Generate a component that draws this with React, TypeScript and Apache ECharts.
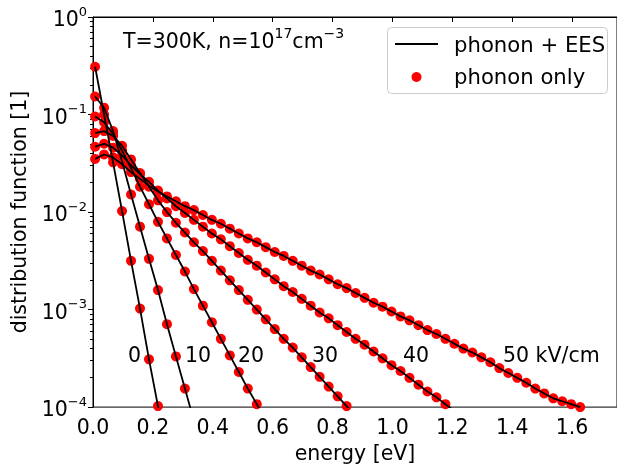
import React, { useEffect, useRef } from 'react';
import * as echarts from 'echarts';

// energy grid of the sampled points [eV]
const energy = [
  0.007, 0.037, 0.067, 0.097, 0.127, 0.157, 0.187, 0.217, 0.247, 0.277,
  0.307, 0.337, 0.367, 0.397, 0.427, 0.457, 0.487, 0.517, 0.547, 0.577,
  0.607, 0.637, 0.667, 0.697, 0.727, 0.757, 0.787, 0.817, 0.847, 0.877,
  0.907, 0.937, 0.967, 0.997, 1.027, 1.057, 1.087, 1.117, 1.147, 1.177,
  1.207, 1.237, 1.267, 1.297, 1.327, 1.357, 1.387, 1.417, 1.447, 1.477,
  1.507, 1.537, 1.567, 1.597, 1.627,
];

// log10 of the distribution function, per field
const log10F_0kV = [-0.51, -1.0, -1.49, -1.99, -2.5, -2.99, -3.51, -3.99, -4.48];
const log10F_10kV = [-0.815, -0.93, -1.17, -1.48, -1.82, -2.15, -2.48, -2.8, -3.15, -3.48, -3.81, -4.14];
const log10F_20kV = [
  -1.02, -1.08, -1.2, -1.37, -1.55, -1.74, -1.92, -2.1, -2.27, -2.44,
  -2.61, -2.79, -2.96, -3.13, -3.3, -3.47, -3.64, -3.81, -3.97, -4.14,
];
const log10F_30kV = [
  -1.19, -1.17, -1.22, -1.32, -1.46, -1.6, -1.74, -1.88, -2.0, -2.11,
  -2.21, -2.31, -2.4, -2.5, -2.6, -2.7, -2.8, -2.9, -3.0, -3.1,
  -3.2, -3.3, -3.39, -3.49, -3.59, -3.69, -3.79, -3.89, -3.99, -4.09,
];
const log10F_40kV = [
  -1.33, -1.3, -1.34, -1.42, -1.52, -1.61, -1.69, -1.78, -1.86, -1.94,
  -2.01, -2.08, -2.15, -2.22, -2.28, -2.35, -2.42, -2.49, -2.55, -2.62,
  -2.69, -2.76, -2.82, -2.89, -2.96, -3.03, -3.09, -3.16, -3.23, -3.3,
  -3.36, -3.43, -3.5, -3.57, -3.63, -3.7, -3.77, -3.84, -3.9, -3.97, -4.04,
];
const log10F_50kV = [
  -1.455, -1.41, -1.44, -1.51, -1.59, -1.66, -1.73, -1.79, -1.84, -1.89,
  -1.94, -1.98, -2.03, -2.08, -2.12, -2.17, -2.22, -2.27, -2.31, -2.36,
  -2.41, -2.45, -2.5, -2.55, -2.6, -2.64, -2.69, -2.74, -2.78, -2.83,
  -2.88, -2.93, -2.97, -3.02, -3.07, -3.11, -3.16, -3.21, -3.25, -3.3,
  -3.35, -3.4, -3.44, -3.49, -3.54, -3.6, -3.65, -3.7, -3.75, -3.81,
  -3.86, -3.91, -3.94, -3.97, -4.0,
];

const fieldCurves = [log10F_0kV, log10F_10kV, log10F_20kV, log10F_30kV, log10F_40kV, log10F_50kV];
const fieldLabels = ['0', '10', '20', '30', '40', '50 kV/cm'];

const xTickValues = [0, 0.2, 0.4, 0.6, 0.8, 1.0, 1.2, 1.4, 1.6];
const yMinorMantissas = [2, 3, 4, 5, 6, 7, 8, 9];
const yDecades = [-4, -3, -2, -1];

const FONT = 'DejaVu Sans';
const FS = 20.5;
const FS_SUP = 14;
const FS_LEGEND = 21.2;

export default function App() {
  const ref = useRef<HTMLDivElement>(null);

  useEffect(() => {
    if (!ref.current) return;
    const chart = echarts.init(ref.current, undefined, { renderer: 'svg' });

    const toPoints = (logs: number[]) => logs.map((v, i) => [energy[i], Math.pow(10, v)]);

    const minorTickPositions: number[] = [];
    yDecades.forEach((d) => yMinorMantissas.forEach((m) => minorTickPositions.push(d + Math.log10(m))));

    const series: any[] = [];
    fieldCurves.forEach((c) => {
      series.push({
        name: 'phonon only',
        type: 'scatter',
        data: toPoints(c),
        symbol: 'circle',
        symbolSize: 10,
        itemStyle: { color: '#ff0000', opacity: 1 },
        z: 2,
        silent: true,
      });
    });
    fieldCurves.forEach((c) => {
      series.push({
        name: 'phonon + EES',
        type: 'line',
        data: toPoints(c),
        showSymbol: false,
        symbol: 'none',
        lineStyle: { color: '#000000', width: 1.8 },
        z: 3,
        silent: true,
      });
    });

    const labelX = [128, 185, 238, 312, 403, 503];
    const graphics: any[] = fieldLabels.map((t, i) => ({
      type: 'text',
      x: labelX[i],
      y: 355,
      style: { text: t, font: `${FS}px "${FONT}"`, fill: '#000', verticalAlign: 'middle', align: 'left' },
      z: 10,
    }));

    graphics.push({
      type: 'text',
      x: 123,
      y: 26,
      style: {
        text: '{b|T=300K, n=10}{s|17}{b|cm}{s|\u22123}',
        fill: '#000',
        verticalAlign: 'top',
        rich: {
          b: { fontSize: FS, fontFamily: FONT, lineHeight: 25, verticalAlign: 'bottom', fill: '#000' },
          s: { fontSize: FS_SUP, fontFamily: FONT, lineHeight: 14, verticalAlign: 'top', fill: '#000' },
        },
      },
      z: 10,
    });

    // legend box
    graphics.push({
      type: 'rect',
      shape: { x: 387.5, y: 27.5, width: 220, height: 66, r: 4 },
      style: { fill: 'rgba(255,255,255,0.8)', stroke: '#cccccc', lineWidth: 1 },
      z: 10,
    });
    graphics.push({
      type: 'line',
      shape: { x1: 395, y1: 44, x2: 438, y2: 44 },
      style: { stroke: '#000', lineWidth: 2 },
      z: 11,
    });
    graphics.push({
      type: 'circle',
      shape: { cx: 416.5, cy: 77, r: 5 },
      style: { fill: '#ff0000' },
      z: 11,
    });
    graphics.push({
      type: 'text',
      x: 454,
      y: 44,
      style: { text: 'phonon + EES', font: `${FS_LEGEND}px "${FONT}"`, fill: '#000', verticalAlign: 'middle' },
      z: 11,
    });
    graphics.push({
      type: 'text',
      x: 454,
      y: 76,
      style: { text: 'phonon only', font: `${FS_LEGEND}px "${FONT}"`, fill: '#000', verticalAlign: 'middle' },
      z: 11,
    });

    const option: any = {
      animation: false,
      textStyle: { fontFamily: FONT, color: '#000' },
      grid: {
        left: 93,
        top: 17,
        width: 525,
        height: 391,
        show: true,
        borderColor: '#000',
        borderWidth: 1,
        backgroundColor: 'transparent',
        containLabel: false,
      },
      xAxis: {
        type: 'value',
        min: 0,
        max: 1.75,
        position: 'bottom',
        name: 'energy [eV]',
        nameLocation: 'middle',
        nameGap: 34,
        nameTextStyle: { fontSize: FS, fontFamily: FONT, color: '#000' },
        axisLine: { show: true, lineStyle: { color: '#000', width: 1 } },
        axisTick: { show: true, inside: false, length: 5, lineStyle: { color: '#000' }, customValues: xTickValues },
        axisLabel: {
          fontSize: FS,
          fontFamily: FONT,
          color: '#000',
          margin: 9,
          customValues: xTickValues,
          formatter: (v: number) => v.toFixed(1),
        },
        splitLine: { show: false },
      },
      yAxis: [
        {
          type: 'log',
          logBase: 10,
          min: 1e-4,
          max: 1,
          position: 'left',
          name: 'distribution function [1]',
          nameLocation: 'middle',
          nameGap: 64,
          nameTextStyle: { fontSize: FS, fontFamily: FONT, color: '#000' },
          axisLine: { show: true, lineStyle: { color: '#000', width: 1 } },
          axisTick: { show: true, inside: false, length: 5, lineStyle: { color: '#000' } },
          axisLabel: {
            margin: 6,
            formatter: (v: number) => {
              const e = Math.round(Math.log10(v));
              const s = e < 0 ? '\u2212' + -e : String(e);
              return `{b|10}{s|${s}}`;
            },
            rich: {
              b: { fontSize: FS, fontFamily: FONT, lineHeight: 25, verticalAlign: 'bottom', color: '#000' },
              s: { fontSize: 13, fontFamily: FONT, lineHeight: 13, verticalAlign: 'top', color: '#000' },
            },
          },
          splitLine: { show: false },
          minorTick: { show: false },
        },
        {
          type: 'value',
          min: -4,
          max: 0,
          position: 'left',
          axisLine: { show: false },
          axisTick: { show: true, inside: false, length: 3, lineStyle: { color: '#000' }, customValues: minorTickPositions },
          axisLabel: { show: false },
          splitLine: { show: false },
        },
      ],
      series,
      graphic: graphics,
    };

    chart.setOption(option);
    return () => chart.dispose();
  }, []);

  return <div ref={ref} style={{ position: 'fixed', left: 0, top: 0, width: 617, height: 468 }} />;
}
